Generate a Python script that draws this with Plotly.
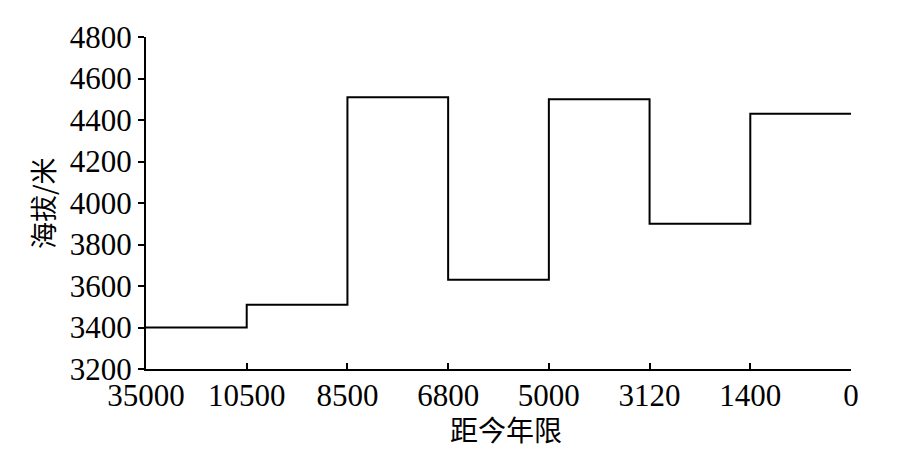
import plotly.graph_objects as go

# 距今年限 (years before present), equally spaced categories
years = ["35000", "10500", "8500", "6800", "5000", "3120", "1400", "0"]
# 海拔 (m), each value holds from its year until the next one
altitude = [3400, 3510, 4510, 3630, 4500, 3900, 4430, 4430]

serif = "Liberation Serif, Times New Roman, serif"
cjk = "Noto Sans CJK SC"

fig = go.Figure()
fig.add_trace(
    go.Scatter(
        x=list(range(len(years))),
        y=altitude,
        mode="lines",
        line=dict(color="black", width=2, shape="hv"),
        showlegend=False,
    )
)

fig.update_xaxes(
    range=[0, len(years) - 1],
    tickvals=list(range(len(years))),
    ticktext=years,
    ticks="inside",
    ticklen=6,
    tickwidth=2,
    tickcolor="black",
    showline=True,
    linecolor="black",
    linewidth=2,
    showgrid=False,
    zeroline=False,
    automargin=False,
    ticklabelstandoff=-2,
    tickfont=dict(family=serif, size=31, color="black"),
)
fig.update_yaxes(
    range=[3200, 4800],
    dtick=200,
    ticks="outside",
    ticklen=6,
    tickwidth=2,
    tickcolor="black",
    showline=True,
    linecolor="black",
    linewidth=2,
    showgrid=False,
    zeroline=False,
    automargin=False,
    tickfont=dict(family=serif, size=31, color="black"),
)

fig.add_annotation(
    text="距今年限", xref="paper", yref="paper", x=0.51, y=-0.18,
    xanchor="center", yanchor="middle", showarrow=False,
    font=dict(family=cjk, size=28, color="black"),
)
fig.add_annotation(
    text="海拔/米", xref="paper", yref="paper", x=-0.1475, y=0.5,
    xanchor="center", yanchor="middle", textangle=-90, showarrow=False,
    font=dict(family=cjk, size=27, color="black"),
)

fig.update_layout(
    width=896,
    height=442,
    margin=dict(l=138, r=53, t=29, b=81),
    plot_bgcolor="white",
    paper_bgcolor="white",
)

fig.write_html("out.html")
